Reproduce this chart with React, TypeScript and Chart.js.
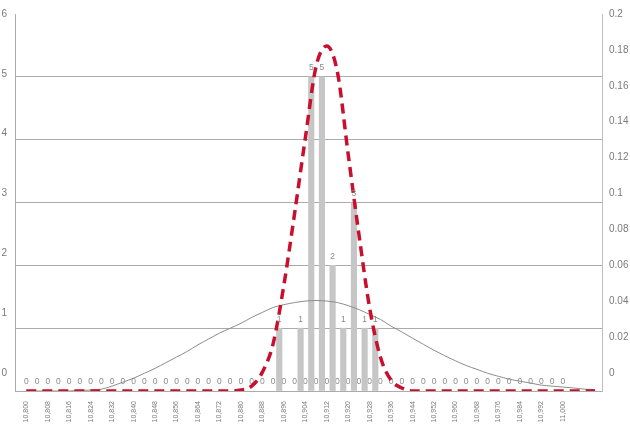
import React, { useEffect, useRef } from 'react';
import { Chart, registerables } from 'chart.js';

Chart.register(...registerables);

// x positions of the curve points (tick marks)
const pointX = [
  10.800, 10.804, 10.808, 10.812, 10.816, 10.820, 10.824, 10.828, 10.832, 10.836,
  10.840, 10.844, 10.848, 10.852, 10.856, 10.860, 10.864, 10.868, 10.872, 10.876,
  10.880, 10.884, 10.888, 10.892, 10.896, 10.900, 10.904, 10.908, 10.912, 10.916,
  10.920, 10.924, 10.928, 10.932, 10.936, 10.940, 10.944, 10.948, 10.952, 10.956,
  10.960, 10.964, 10.968, 10.972, 10.976, 10.980, 10.984, 10.988, 10.992, 10.996,
  11.000, 11.004, 11.008, 11.012,
];

// labelled zero series (one "0" per tick position 10.800 … 11.000)
const zeroSeriesX = [
  10.800, 10.804, 10.808, 10.812, 10.816, 10.820, 10.824, 10.828, 10.832, 10.836,
  10.840, 10.844, 10.848, 10.852, 10.856, 10.860, 10.864, 10.868, 10.872, 10.876,
  10.880, 10.884, 10.888, 10.892, 10.896, 10.900, 10.904, 10.908, 10.912, 10.916,
  10.920, 10.924, 10.928, 10.932, 10.936, 10.940, 10.944, 10.948, 10.952, 10.956,
  10.960, 10.964, 10.968, 10.972, 10.976, 10.980, 10.984, 10.988, 10.992, 10.996,
  11.000,
];
const zeroSeries = [
  0, 0, 0, 0, 0, 0, 0, 0, 0, 0,
  0, 0, 0, 0, 0, 0, 0, 0, 0, 0,
  0, 0, 0, 0, 0, 0, 0, 0, 0, 0,
  0, 0, 0, 0, 0, 0, 0, 0, 0, 0,
  0, 0, 0, 0, 0, 0, 0, 0, 0, 0,
  0,
];

// histogram bins (on their own category axis, 10.800 … 11.000 across the full width)
const binStarts = [10.888, 10.896, 10.900, 10.904, 10.908, 10.912, 10.916, 10.920, 10.924];
const binCounts = [1, 1, 5, 5, 2, 1, 3, 1, 1];

// fitted normal curve (red dashed)
const fittedCurve = [
  0, 0, 0, 0, 0, 0, 0, 0, 0, 0,
  0, 0, 0, 0, 0, 0, 0, 0, 0, 0,
  0.0005, 0.0026, 0.010, 0.025, 0.056, 0.094, 0.134, 0.172, 0.183, 0.169,
  0.1255, 0.083, 0.044, 0.018, 0.0057, 0.0016, 0, 0, 0, 0,
  0, 0, 0, 0, 0, 0, 0, 0, 0, 0,
  0, 0, 0, 0,
];

// wide normal curve (thin grey)
const wideCurve = [
  0, 0, 0, 0, 0, 0.0003, 0.0005, 0.001, 0.0026, 0.0047,
  0.0068, 0.0094, 0.012, 0.015, 0.018, 0.021, 0.0245, 0.0276, 0.0307, 0.0333,
  0.0359, 0.039, 0.0417, 0.0443, 0.0458, 0.0469, 0.0477, 0.048, 0.0477, 0.0469,
  0.0453, 0.0432, 0.0406, 0.038, 0.0344, 0.0313, 0.028, 0.0248, 0.0216, 0.0187,
  0.016, 0.0135, 0.0115, 0.0094, 0.0078, 0.0063, 0.0052, 0.0042, 0.0031, 0.0026,
  0.0021, 0.0016, 0.001, 0.0008,
];

const xTickValues = [
  10.800, 10.808, 10.816, 10.824, 10.832, 10.840, 10.848, 10.856, 10.864, 10.872,
  10.880, 10.888, 10.896, 10.904, 10.912, 10.920, 10.928, 10.936, 10.944, 10.952,
  10.960, 10.968, 10.976, 10.984, 10.992, 11.000,
];
const leftTickValues = [0, 1, 2, 3, 4, 5, 6];
const rightTickValues = [0, 0.02, 0.04, 0.06, 0.08, 0.1, 0.12, 0.14, 0.16, 0.18, 0.2];

const FONT = '"Liberation Sans", Arial, Helvetica, sans-serif';
const TEXT = '#7a7a7a';
const GRID = '#ababab';

const labelPlugin = {
  id: 'valueLabels',
  beforeDatasetsDraw(chart: any) {
    const ctx = chart.ctx;
    const meta = chart.getDatasetMeta(2);
    ctx.save();
    ctx.font = `8.5px ${FONT}`;
    ctx.fillStyle = '#8a8a8a';
    ctx.textAlign = 'center';
    ctx.textBaseline = 'middle';
    meta.data.forEach((p: any, i: number) => {
      ctx.fillText(String(zeroSeries[i]), p.x, p.y - 9);
    });
    ctx.restore();
  },
  afterDatasetsDraw(chart: any) {
    const ctx = chart.ctx;
    const meta = chart.getDatasetMeta(3);
    ctx.save();
    ctx.font = `8.5px ${FONT}`;
    ctx.fillStyle = '#8a8a8a';
    ctx.textAlign = 'center';
    ctx.textBaseline = 'middle';
    meta.data.forEach((el: any, i: number) => {
      const v = binCounts[i];
      if (v > 0) ctx.fillText(String(v), el.x, el.y - 9);
    });
    ctx.restore();
  },
};

export default function App() {
  const canvasRef = useRef<HTMLCanvasElement | null>(null);

  useEffect(() => {
    const canvas = canvasRef.current;
    if (!canvas) return;
    const chart = new Chart(canvas, {
      type: 'bar',
      data: {
        datasets: [
          {
            type: 'line',
            label: 'fit',
            data: pointX.map((x, i) => ({ x, y: fittedCurve[i] })),
            xAxisID: 'x',
            yAxisID: 'yc',
            borderColor: '#c8102e',
            borderWidth: 3.5,
            borderDash: [10, 6],
            borderCapStyle: 'butt',
            pointRadius: 0,
            cubicInterpolationMode: 'monotone',
            fill: false,
            order: 0,
          } as any,
          {
            type: 'line',
            label: 'wide',
            data: pointX.map((x, i) => ({ x, y: wideCurve[i] })),
            xAxisID: 'x',
            yAxisID: 'yc',
            borderColor: '#8c8c8c',
            borderWidth: 1,
            pointRadius: 0,
            cubicInterpolationMode: 'monotone',
            fill: false,
            order: 1,
          } as any,
          {
            type: 'line',
            label: 'zero',
            data: zeroSeriesX.map((x, i) => ({ x, y: zeroSeries[i] })),
            xAxisID: 'x',
            yAxisID: 'y',
            borderColor: 'rgba(0,0,0,0)',
            borderWidth: 0,
            pointRadius: 0,
            fill: false,
            order: 2,
          } as any,
          {
            type: 'bar',
            label: 'count',
            data: binStarts.map((x, i) => ({ x, y: binCounts[i] })),
            xAxisID: 'xb',
            yAxisID: 'y',
            backgroundColor: '#c6c6c6',
            borderWidth: 0,
            barThickness: 5.5,
            order: 3,
          } as any,
        ],
      },
      options: {
        responsive: false,
        animation: false,
        devicePixelRatio: 1,
        layout: { padding: { top: 7, left: 0, right: 0, bottom: 0 } },
        plugins: { legend: { display: false }, tooltip: { enabled: false } },
        scales: {
          x: {
            type: 'linear',
            position: 'bottom',
            min: 10.8,
            max: 11.0104,
            afterBuildTicks: (axis: any) => {
              axis.ticks = xTickValues.map((value) => ({ value }));
            },
            afterFit: (scale: any) => {
              scale.height = 37;
            },
            ticks: {
              autoSkip: false,
              minRotation: 90,
              maxRotation: 90,
              padding: 10,
              color: TEXT,
              font: { family: FONT, size: 7 },
              callback: (v: any) => Number(v).toFixed(3).replace('.', ','),
            },
            grid: { display: false, drawTicks: false },
            border: { display: true, color: GRID, width: 1 },
          },
          xb: {
            type: 'linear',
            display: false,
            min: 10.8,
            max: 11.0,
          },
          y: {
            type: 'linear',
            position: 'left',
            min: 0,
            max: 6,
            afterBuildTicks: (axis: any) => {
              axis.ticks = leftTickValues.map((value) => ({ value }));
            },
            afterFit: (scale: any) => {
              scale.width = 0;
            },
            ticks: { display: false },
            grid: {
              drawTicks: false,
              color: (c: any) => (c.tick && c.tick.value === 6 ? 'rgba(0,0,0,0)' : GRID),
              lineWidth: 1,
            },
            border: { display: false },
          },
          yl: {
            type: 'linear',
            position: 'left',
            min: -0.304,
            max: 6,
            afterBuildTicks: (axis: any) => {
              axis.ticks = leftTickValues.map((value) => ({ value }));
            },
            afterFit: (scale: any) => {
              scale.width = 15;
            },
            ticks: {
              padding: 8,
              color: TEXT,
              font: { family: FONT, size: 10 },
              callback: (v: any) => String(v),
            },
            grid: { display: false, drawTicks: false },
            border: { display: true, color: GRID, width: 1 },
          },
          y1: {
            type: 'linear',
            position: 'right',
            min: -0.0101,
            max: 0.2,
            afterBuildTicks: (axis: any) => {
              axis.ticks = rightTickValues.map((value) => ({ value }));
            },
            afterFit: (scale: any) => {
              scale.width = 28;
            },
            ticks: {
              padding: 7,
              color: TEXT,
              font: { family: FONT, size: 10 },
              callback: (v: any) => String(Number(Number(v).toFixed(2))),
            },
            grid: { display: false, drawTicks: false },
            border: { display: true, color: '#bdbdbd', width: 1 },
          },
          yc: {
            type: 'linear',
            display: false,
            min: 0,
            max: 0.2,
          },
        },
      } as any,
      plugins: [labelPlugin],
    });
    return () => chart.destroy();
  }, []);

  return (
    <div style={{ position: 'fixed', left: 0, top: 0, width: 630, height: 428, background: '#fff' }}>
      <canvas ref={canvasRef} width={630} height={428} style={{ display: 'block', width: 630, height: 428 }} />
    </div>
  );
}
